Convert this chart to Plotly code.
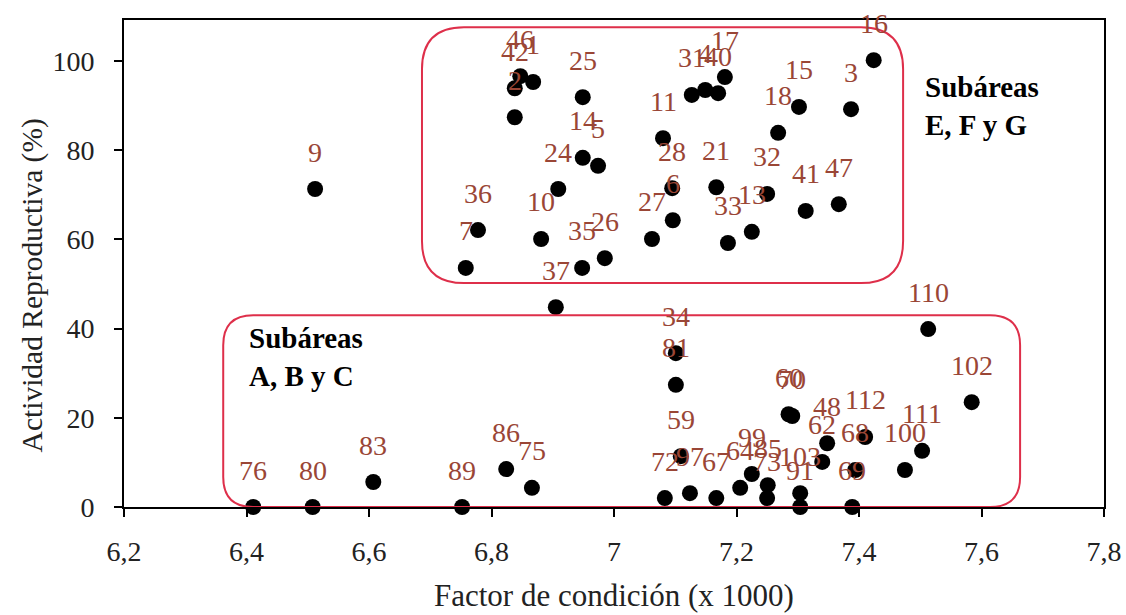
import plotly.graph_objects as go

# ---- data ----
ids = [16, 3, 15, 18, 17, 40, 4, 31, 11, 28, 6, 27, 21, 32, 41, 47, 33, 13,
       25, 14, 5, 24, 10, 35, 26, 37, 36, 7, 9, 46, 42, 1, 2,
       34, 81, 59, 72, 97, 67, 64, 99, 85, 73, 103, 91, 60, 70, 48, 62,
       112, 68, 69, 110, 102, 111, 100, 76, 80, 83, 89, 86, 75]
factor = [7.424, 7.387, 7.302, 7.268, 7.181, 7.170, 7.149, 7.127, 7.080, 7.095,
          7.096, 7.062, 7.167, 7.250, 7.313, 7.367, 7.186, 7.225,
          6.949, 6.949, 6.974, 6.909, 6.881, 6.948, 6.985, 6.905, 6.778, 6.758,
          6.512, 6.847, 6.838, 6.868, 6.838,
          7.101, 7.101, 7.109, 7.083, 7.124, 7.167, 7.206, 7.225, 7.251, 7.250,
          7.304, 7.304, 7.285, 7.291, 7.348, 7.340,
          7.410, 7.394, 7.389, 7.513, 7.584, 7.503, 7.475,
          6.411, 6.508, 6.607, 6.752, 6.824, 6.866]
actividad = [100.2, 89.2, 89.7, 83.9, 96.4, 92.8, 93.5, 92.4, 82.7, 71.5,
             64.3, 60.1, 71.7, 70.2, 66.4, 67.9, 59.2, 61.7,
             91.9, 78.3, 76.5, 71.3, 60.1, 53.6, 55.8, 44.8, 62.1, 53.6,
             71.3, 96.6, 93.9, 95.3, 87.4,
             34.5, 27.4, 11.4, 2.0, 3.1, 2.0, 4.3, 7.4, 4.9, 2.0,
             3.1, 0.0, 20.8, 20.4, 14.3, 10.1,
             15.7, 8.3, 0.0, 39.9, 23.5, 12.6, 8.3,
             0.0, 0.0, 5.6, 0.0, 8.5, 4.3]

x_tickvals = [6.2, 6.4, 6.6, 6.8, 7.0, 7.2, 7.4, 7.6, 7.8]
x_ticktext = ["6,2", "6,4", "6,6", "6,8", "7", "7,2", "7,4", "7,6", "7,8"]
y_tickvals = [0, 20, 40, 60, 80, 100]

FONT = "Liberation Serif"
LABEL_COLOR = "#9a4636"
BOX_COLOR = "#de2f4a"
TEXT_COLOR = "#222222"

fig = go.Figure()
fig.add_trace(go.Scatter(
    x=factor, y=actividad, mode="markers",
    marker=dict(color="black", size=16),
    cliponaxis=False, showlegend=False, hoverinfo="skip"))

# point labels above each dot
for i, xv, yv in zip(ids, factor, actividad):
    fig.add_annotation(x=xv, y=yv, text=str(i), showarrow=False,
                       yshift=37, font=dict(family=FONT, size=28, color=LABEL_COLOR))


def rounded_box(x0, x1, y0, y1, rx, ry):
    return (f"M {x0+rx},{y1} L {x1-rx},{y1} Q {x1},{y1} {x1},{y1-ry} "
            f"L {x1},{y0+ry} Q {x1},{y0} {x1-rx},{y0} "
            f"L {x0+rx},{y0} Q {x0},{y0} {x0},{y0+ry} "
            f"L {x0},{y1-ry} Q {x0},{y1} {x0+rx},{y1} Z")


px_x = 1.6 / 980.0   # data units per pixel (x)
px_y = 109.2 / 487.0  # data units per pixel (y)

fig.add_shape(type="path", xref="x", yref="y",
              path=rounded_box(6.6865, 7.472, 50.2, 107.6, 42 * px_x, 42 * px_y),
              line=dict(color=BOX_COLOR, width=2))
fig.add_shape(type="path", xref="x", yref="y",
              path=rounded_box(6.362, 7.663, 0.0, 43.0, 30 * px_x, 30 * px_y),
              line=dict(color=BOX_COLOR, width=2))

box_font = dict(family=FONT, size=29, color="black")
fig.add_annotation(x=7.504, y=94.2, xanchor="left", text="<b>Subáreas</b>",
                   showarrow=False, font=box_font)
fig.add_annotation(x=7.504, y=85.6, xanchor="left", text="<b>E, F y G</b>",
                   showarrow=False, font=box_font)
fig.add_annotation(x=6.401, y=38.0, xanchor="left", text="<b>Subáreas</b>",
                   showarrow=False, font=box_font)
fig.add_annotation(x=6.401, y=29.4, xanchor="left", text="<b>A, B y C</b>",
                   showarrow=False, font=box_font)

# axis titles
fig.add_annotation(xref="paper", yref="paper", x=0.5, y=-0.181,
                   xanchor="center", yanchor="middle",
                   text="Factor de condición (x 1000)", showarrow=False,
                   font=dict(family=FONT, size=31, color=TEXT_COLOR))
fig.add_annotation(xref="paper", yref="paper", x=-0.0939, y=0.455,
                   xanchor="center", yanchor="middle",
                   text="Actividad Reproductiva (%)", showarrow=False, textangle=-90,
                   font=dict(family=FONT, size=29.5, color=TEXT_COLOR))

axis_common = dict(showline=True, linecolor="black", linewidth=2, mirror=True,
                   ticks="outside", ticklen=8, tickwidth=2, tickcolor="black",
                   showgrid=False, zeroline=False, automargin=False,
                   tickfont=dict(family=FONT, size=28, color=TEXT_COLOR))

fig.update_layout(
    width=1126, height=615,
    margin=dict(l=124, r=22, t=20, b=108),
    paper_bgcolor="white", plot_bgcolor="white",
    xaxis=dict(range=[6.2, 7.8], tickvals=x_tickvals, ticktext=x_ticktext,
               ticklabelstandoff=10, **axis_common),
    yaxis=dict(range=[0, 109.2], tickvals=y_tickvals,
               ticklabelstandoff=14, **axis_common),
)

fig.write_html("out.html")
